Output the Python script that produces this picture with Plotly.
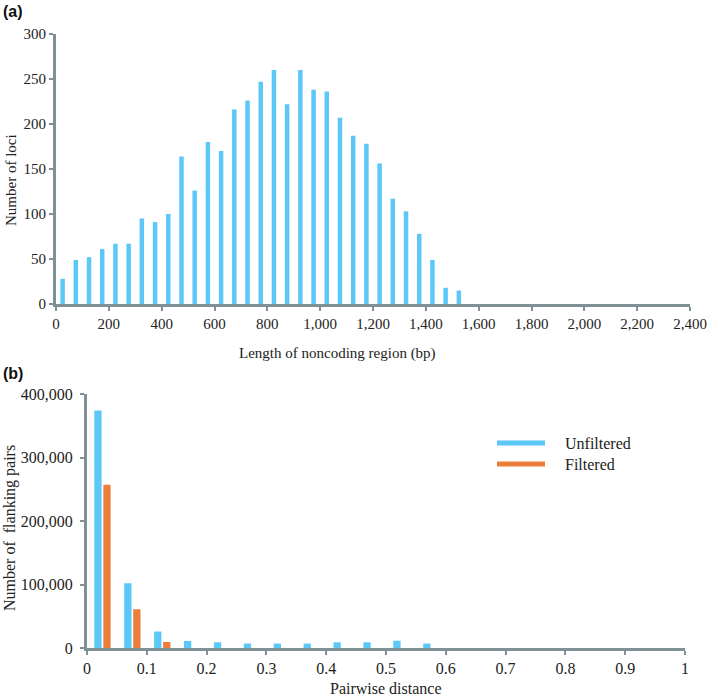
import plotly.graph_objects as go

# Panel (a): length distribution of noncoding regions
length_bins = [25, 75, 125, 175, 225, 275, 325, 375, 425, 475, 525, 575, 625, 675, 725,
               775, 825, 875, 925, 975, 1025, 1075, 1125, 1175, 1225, 1275, 1325, 1375,
               1425, 1475, 1525]
loci_counts = [28, 49, 52, 61, 67, 67, 95, 91, 100, 164, 126, 180, 170, 216, 226,
               247, 260, 222, 260, 238, 236, 207, 187, 178, 156, 117, 103, 78,
               49, 18, 15]
a_xticks = [0, 200, 400, 600, 800, 1000, 1200, 1400, 1600, 1800, 2000, 2200, 2400]
a_yticks = [0, 50, 100, 150, 200, 250, 300]

# Panel (b): pairwise distance distribution
dist_bins = [0.025, 0.075, 0.125, 0.175, 0.225, 0.275, 0.325, 0.375, 0.425, 0.475, 0.525, 0.575]
unfiltered = [374000, 102000, 26000, 11000, 9000, 7000, 7000, 7000, 9000, 9000, 11500, 7000]
filtered = [257000, 61000, 9500, 0, 0, 0, 0, 0, 0, 0, 0, 0]
b_xticks = [0, 0.1, 0.2, 0.3, 0.4, 0.5, 0.6, 0.7, 0.8, 0.9, 1]
b_xticklabels = ["0", "0.1", "0.2", "0.3", "0.4", "0.5", "0.6", "0.7", "0.8", "0.9", "1"]
b_yticks = [0, 100000, 200000, 300000, 400000]
series_names = ["Unfiltered", "Filtered"]

W, H = 709, 698
BLUE = "#5BC8F7"
ORANGE = "#EB7E3A"
AXC = "#7F9096"
SERIF = "Liberation Serif"
SANS = "Liberation Sans"


def px(x):
    return x / W


def py(y):
    return 1 - y / H


fig = go.Figure()
fig.add_trace(go.Bar(x=length_bins, y=loci_counts, width=17, marker_color=BLUE,
                     marker_line_width=0, xaxis="x", yaxis="y", showlegend=False))
fig.add_trace(go.Bar(x=dist_bins, y=unfiltered, width=0.0122, offset=-0.0128,
                     marker_color=BLUE, marker_line_width=0, name=series_names[0],
                     xaxis="x2", yaxis="y2", showlegend=False))
fig.add_trace(go.Bar(x=dist_bins, y=filtered, width=0.0122, offset=0.0023,
                     marker_color=ORANGE, marker_line_width=0, name=series_names[1],
                     xaxis="x2", yaxis="y2", showlegend=False))

axis_common = dict(showline=True, linecolor=AXC, linewidth=3, showgrid=False,
                   zeroline=False, ticks="outside", tickcolor=AXC, tickwidth=2,
                   ticklen=4, automargin=False)

fig.update_layout(
    width=W, height=H,
    margin=dict(l=0, r=0, t=0, b=0, pad=0),
    plot_bgcolor="white", paper_bgcolor="white",
    barmode="overlay",
    font=dict(family=SERIF, color="#222222"),
    xaxis=dict(domain=[px(56), px(690)], range=[0, 2400], anchor="y",
               tickvals=a_xticks, tickformat=",d",
               tickfont=dict(family=SERIF, size=15, color="#222222"), **axis_common),
    yaxis=dict(domain=[py(304), py(34)], range=[0, 300], anchor="x",
               tickvals=a_yticks,
               tickfont=dict(family=SERIF, size=15, color="#222222"), **axis_common),
    xaxis2=dict(domain=[px(87), px(685)], range=[0, 1], anchor="y2",
                tickvals=b_xticks, ticktext=b_xticklabels,
                tickfont=dict(family=SERIF, size=16, color="#222222"), **axis_common),
    yaxis2=dict(domain=[py(648), py(394)], range=[0, 400000], anchor="x2",
                tickvals=b_yticks, tickformat=",d", ticklabelstandoff=4,
                tickfont=dict(family=SERIF, size=16, color="#222222"), **axis_common),
)

ann = []
ann.append(dict(text="<b>(a)</b>", x=px(1), y=py(12), xanchor="left", yanchor="middle",
                font=dict(family=SANS, size=16, color="#111111")))
ann.append(dict(text="<b>(b)</b>", x=px(1), y=py(373), xanchor="left", yanchor="middle",
                font=dict(family=SANS, size=16, color="#111111")))
ann.append(dict(text="Number of loci", x=px(11), y=py(180), textangle=-90,
                xanchor="center", yanchor="middle",
                font=dict(family=SERIF, size=15, color="#222222")))
ann.append(dict(text="Length of noncoding region (bp)", x=px(337), y=py(353),
                xanchor="center", yanchor="middle",
                font=dict(family=SERIF, size=15, color="#222222")))
ann.append(dict(text="Number of  flanking pairs", x=px(10), y=py(528), textangle=-90,
                xanchor="center", yanchor="middle",
                font=dict(family=SERIF, size=16, color="#222222")))
ann.append(dict(text="Pairwise distance", x=px(386), y=py(688),
                xanchor="center", yanchor="middle",
                font=dict(family=SERIF, size=16, color="#222222")))
# Legend (manual, to reproduce the long line swatches)
ann.append(dict(text=series_names[0], x=px(563), y=py(444), xanchor="left", yanchor="middle",
                font=dict(family=SERIF, size=16, color="#222222")))
ann.append(dict(text=series_names[1], x=px(563), y=py(464), xanchor="left", yanchor="middle",
                font=dict(family=SERIF, size=16, color="#222222")))
for a in ann:
    a.update(xref="paper", yref="paper", showarrow=False)
fig.update_layout(annotations=ann)

fig.update_layout(shapes=[
    dict(type="line", xref="paper", yref="paper", x0=px(497), x1=px(545), y0=py(443), y1=py(443),
         line=dict(color=BLUE, width=5)),
    dict(type="line", xref="paper", yref="paper", x0=px(497), x1=px(545), y0=py(464), y1=py(464),
         line=dict(color=ORANGE, width=5)),
])

fig.write_html(
    "out.html",
    config={"displayModeBar": False},
    post_script="document.body.style.margin='0';document.body.style.padding='0';"
                "document.documentElement.style.overflow='hidden';",
)
